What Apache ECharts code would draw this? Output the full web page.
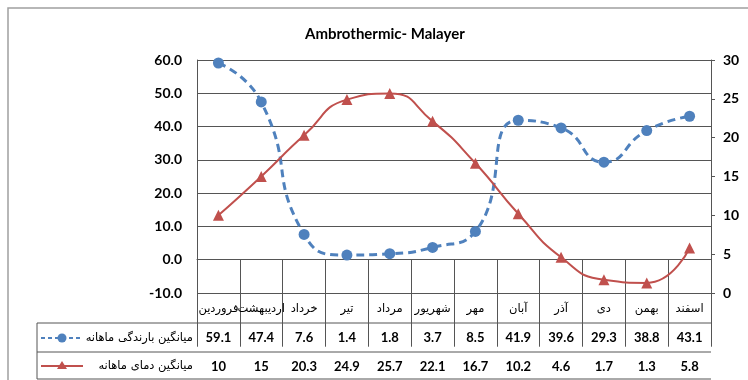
<!DOCTYPE html>
<html>
<head>
<meta charset="utf-8">
<script src="https://cdn.jsdelivr.net/npm/echarts@6/dist/echarts.min.js"></script>
<style>
  html, body { margin: 0; padding: 0; background: #fff; }
  #chart { width: 748px; height: 380px; }
</style>
</head>
<body>
<div id="chart"></div>
<script>
// Persian calendar months (Farvardin .. Esfand)
var months = ['فروردین', 'اردیبهشت', 'خرداد', 'تیر', 'مرداد', 'شهریور', 'مهر', 'آبان', 'آذر', 'دی', 'بهمن', 'اسفند'];
// Mean monthly precipitation (mm), left axis
var precipitation = [59.1, 47.4, 7.6, 1.4, 1.8, 3.7, 8.5, 41.9, 39.6, 29.3, 38.8, 43.1];
// Mean monthly temperature (°C), right axis
var temperature = [10, 15, 20.3, 24.9, 25.7, 22.1, 16.7, 10.2, 4.6, 1.7, 1.3, 5.8];
var precipName = 'میانگین بارندگی ماهانه';
var tempName = 'میانگین دمای ماهانه';

var BLUE = '#4F81BD';
var RED = '#C0504D';
var GRID = { left: 197, right: 37, top: 60, bottom: 87 };
var plotRight = 748 - GRID.right;
var row1 = 323, row2 = 352, row3 = 379, tableLeft = 37;
var faFont = '"DejaVu Sans", sans-serif';
var numFont = 'Lato, "Liberation Sans", sans-serif';

var chart = echarts.init(document.getElementById('chart'));

function hLine(y, x1, x2, color) {
  return { type: 'line', shape: { x1: x1, y1: y, x2: x2, y2: y }, style: { stroke: color || '#555', lineWidth: 1 }, silent: true };
}

chart.setOption({
  animation: false,
  title: {
    text: 'Ambrothermic- Malayer',
    left: 300, top: 22,
    textStyle: { fontFamily: numFont, fontSize: 15, fontWeight: 'bold', color: '#000' }
  },
  grid: GRID,
  xAxis: [
    {
      type: 'category', data: months, position: 'bottom', boundaryGap: true,
      axisLine: { show: true, lineStyle: { color: '#555', width: 1 } },
      axisTick: { show: true, interval: 0, length: row3 - 293 + 1, lineStyle: { color: '#555' } },
      axisLabel: { interval: 0, margin: 10, fontFamily: faFont, fontSize: 11.5, color: '#000' }
    },
    {
      type: 'category', data: precipitation.map(function (v) { return v.toFixed(1); }),
      position: 'bottom', offset: row1 - 293, boundaryGap: true,
      axisLine: { show: false }, axisTick: { show: false },
      axisLabel: { interval: 0, margin: 8, fontFamily: numFont, fontSize: 13, fontWeight: 'bold', color: '#000' }
    },
    {
      type: 'category', data: temperature.map(function (v) { return String(v); }),
      position: 'bottom', offset: row2 - 293, boundaryGap: true,
      axisLine: { show: false }, axisTick: { show: false },
      axisLabel: { interval: 0, margin: 8, fontFamily: numFont, fontSize: 13, fontWeight: 'bold', color: '#000' }
    }
  ],
  yAxis: [
    {
      type: 'value', min: -10, max: 60, interval: 10, position: 'left',
      axisLine: { show: true, lineStyle: { color: '#555' } },
      axisTick: { show: false },
      axisLabel: { margin: 15, formatter: function (v) { return v.toFixed(1); }, fontFamily: numFont, fontSize: 14, fontWeight: 'bold', color: '#000' },
      splitLine: { show: true, lineStyle: { color: ['#555', '#c8c8c8', '#555', '#555', '#555', '#555', '#555', '#555'], width: 1 } }
    },
    {
      type: 'value', min: 0, max: 30, interval: 5, position: 'right',
      axisLine: { show: true, lineStyle: { color: '#555' } },
      axisTick: { show: true, inside: false, length: 4, lineStyle: { color: '#555' } },
      axisLabel: { margin: 12, fontFamily: numFont, fontSize: 14, fontWeight: 'bold', color: '#000' },
      splitLine: { show: false }
    }
  ],
  series: [
    {
      name: precipName, type: 'line', xAxisIndex: 0, yAxisIndex: 0, data: precipitation,
      smooth: 0.55, symbol: 'circle', symbolSize: 11,
      lineStyle: { color: BLUE, width: 3, type: [8, 5] },
      itemStyle: { color: BLUE }, z: 3
    },
    {
      name: tempName, type: 'line', xAxisIndex: 0, yAxisIndex: 1, data: temperature,
      smooth: 0.55, symbol: 'triangle', symbolSize: 11,
      lineStyle: { color: RED, width: 2 },
      itemStyle: { color: RED }, z: 4
    }
  ],
  graphic: [
    // outer chart frame
    { type: 'rect', shape: { x: 8, y: 8, width: 760, height: 400 }, style: { fill: 'none', stroke: '#a0a0a0', lineWidth: 1.5 }, silent: true },
    // data table rules
    hLine(row1, tableLeft, plotRight),
    hLine(row2, tableLeft, plotRight),
    hLine(row3, tableLeft, plotRight),
    { type: 'line', shape: { x1: tableLeft, y1: row1, x2: tableLeft, y2: row3 }, style: { stroke: '#555', lineWidth: 1 }, silent: true },
    // legend key: precipitation
    { type: 'line', shape: { x1: 41, y1: 338, x2: 83, y2: 338 }, style: { stroke: BLUE, lineWidth: 2, lineDash: [4, 3] }, silent: true },
    { type: 'circle', shape: { cx: 62, cy: 338, r: 4.5 }, style: { fill: BLUE }, silent: true },
    { type: 'text', x: 193, y: 338, style: { text: precipName, fontFamily: faFont, fontSize: 11.5, fill: '#000', align: 'right', verticalAlign: 'middle' }, silent: true },
    // legend key: temperature
    { type: 'line', shape: { x1: 41, y1: 366, x2: 83, y2: 366 }, style: { stroke: RED, lineWidth: 2 }, silent: true },
    { type: 'polygon', shape: { points: [[62, 361], [67, 369], [57, 369]] }, style: { fill: RED }, silent: true },
    { type: 'text', x: 193, y: 366, style: { text: tempName, fontFamily: faFont, fontSize: 11.5, fill: '#000', align: 'right', verticalAlign: 'middle' }, silent: true }
  ]
});
</script>
</body>
</html>
